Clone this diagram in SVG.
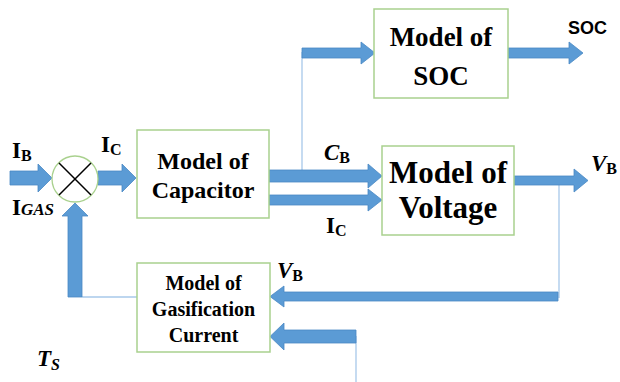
<svg xmlns="http://www.w3.org/2000/svg" width="620" height="382" viewBox="0 0 620 382">
<style>
.box{fill:#fff;stroke:#A9D18E;stroke-width:1.5}
.arr{fill:#5B9BD5;stroke:#4A89C4;stroke-width:0.8}
.thin{stroke:#A7C8EA;stroke-width:1.3;fill:none}
.bt{font-family:'Liberation Serif',serif;font-weight:bold;fill:#000;text-anchor:middle}
.lb{font-family:'Liberation Serif',serif;font-weight:bold;fill:#000}
.it{font-style:italic}
</style>
<rect width="620" height="382" fill="#fff"/>
<g id="connectors">
  <path class="thin" d="M302 170 V52"/>
  <path class="thin" d="M559 180 V298"/>
  <path class="thin" d="M356 336 V382"/>
  <path class="thin" d="M82 297 H137"/>
  <polygon class="arr" points="10,171 38,171 38,164 52,178 38,192 38,185 10,185"/>
  <polygon class="arr" points="98,171 122,171 122,164 136,178 122,192 122,185 98,185"/>
  <polygon class="arr" points="68,297 68,216 62,216 75,203 88,216 82,216 82,297"/>
  <polygon class="arr" points="269,170 368,170 368,164 382,176 368,188 368,182 269,182"/>
  <polygon class="arr" points="269,195 368,195 368,189 382,200 368,211 368,205 269,205"/>
  <polygon class="arr" points="302,48 361,48 361,42 375,53 361,64 361,58 302,58"/>
  <polygon class="arr" points="508,48 569,48 569,42 583,53 569,64 569,58 508,58"/>
  <polygon class="arr" points="514,176 574,176 574,169 588,180.5 574,192 574,185 514,185"/>
  <polygon class="arr" points="558,292 284,292 284,286 270,296.5 284,307 284,301 558,301"/>
  <polygon class="arr" points="356,330 284,330 284,323 270,336.5 284,350 284,343 356,343"/>
</g>
<g id="sum">
  <circle cx="75" cy="179" r="23" fill="#fff" stroke="#A9D18E" stroke-width="1.3"/>
  <path d="M59 163 L91 195 M91 163 L59 195" stroke="#000" stroke-width="1.5"/>
</g>
<g id="capacitor">
  <rect class="box" x="137" y="130" width="132" height="88"/>
  <text class="bt" x="203" y="169" font-size="24">Model of</text>
  <text class="bt" x="203" y="198" font-size="24">Capacitor</text>
</g>
<g id="soc">
  <rect class="box" x="374" y="9" width="134" height="89"/>
  <text class="bt" x="441" y="46" font-size="27">Model of</text>
  <text class="bt" x="441" y="85" font-size="27">SOC</text>
</g>
<g id="voltage">
  <rect class="box" x="382" y="146" width="132" height="89"/>
  <text class="bt" x="448" y="183" font-size="31">Model of</text>
  <text class="bt" x="448" y="218" font-size="31">Voltage</text>
</g>
<g id="gasification">
  <rect class="box" x="137" y="263" width="133" height="89"/>
  <text class="bt" x="203.5" y="290" font-size="20">Model of</text>
  <text class="bt" x="203.5" y="316" font-size="20">Gasification</text>
  <text class="bt" x="203.5" y="342" font-size="20">Current</text>
</g>
<g id="labels">
  <text class="lb" x="12" y="158" font-size="23">I<tspan font-size="16" dy="3">B</tspan></text>
  <text class="lb" x="12" y="215" font-size="23">I<tspan font-size="17" class="it">GAS</tspan></text>
  <text class="lb" x="101" y="152" font-size="23">I<tspan font-size="16" dy="3">C</tspan></text>
  <text class="lb" x="324" y="160" font-size="23"><tspan class="it">C</tspan><tspan font-size="16" dy="3">B</tspan></text>
  <text class="lb" x="326" y="233" font-size="23">I<tspan font-size="16" dy="3">C</tspan></text>
  <text class="lb" x="591" y="171" font-size="23"><tspan class="it">V</tspan><tspan font-size="16" dy="3">B</tspan></text>
  <text class="lb" x="277" y="278" font-size="23"><tspan class="it">V</tspan><tspan font-size="16" dy="3">B</tspan></text>
  <text class="lb" x="37" y="366" font-size="23"><tspan class="it">T</tspan><tspan font-size="16" dy="4" class="it">S</tspan></text>
  <text x="568" y="34" font-family="Liberation Sans, Arial, sans-serif" font-weight="bold" font-size="18" fill="#000">SOC</text>
</g>
</svg>
